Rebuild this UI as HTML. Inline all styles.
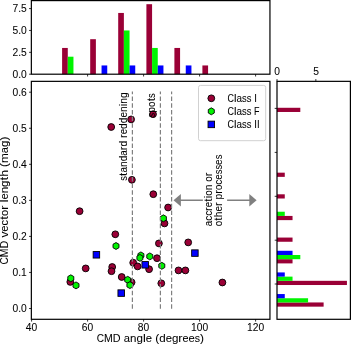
<!DOCTYPE html>
<html><head><meta charset="utf-8"><title>CMD angle plot</title>
<style>html,body{margin:0;padding:0;background:#fff;}body{width:351px;height:345px;overflow:hidden;font-family:"Liberation Sans",sans-serif;}svg{display:block;}</style>
</head><body>
<svg width="351" height="345" viewBox="0 0 351 345" font-family="'Liberation Sans', sans-serif" fill="#000">
<rect x="0" y="0" width="351" height="345" fill="#fff"/>
<rect x="62.10" y="47.95" width="5.68" height="26.25" fill="#9a0036"/>
<rect x="67.78" y="56.70" width="5.68" height="17.50" fill="#00f400"/>
<rect x="90.20" y="39.20" width="5.68" height="35.00" fill="#9a0036"/>
<rect x="101.56" y="65.45" width="5.68" height="8.75" fill="#0000ff"/>
<rect x="118.20" y="12.95" width="5.68" height="61.25" fill="#9a0036"/>
<rect x="123.88" y="30.45" width="5.68" height="43.75" fill="#00f400"/>
<rect x="129.56" y="65.45" width="5.68" height="8.75" fill="#0000ff"/>
<rect x="146.40" y="4.20" width="5.68" height="70.00" fill="#9a0036"/>
<rect x="152.08" y="47.95" width="5.68" height="26.25" fill="#00f400"/>
<rect x="157.76" y="65.45" width="5.68" height="8.75" fill="#0000ff"/>
<rect x="174.40" y="47.95" width="5.68" height="26.25" fill="#9a0036"/>
<rect x="185.76" y="65.45" width="5.68" height="8.75" fill="#0000ff"/>
<rect x="202.40" y="65.45" width="5.68" height="8.75" fill="#9a0036"/>
<rect x="277.00" y="302.45" width="46.62" height="4.20" fill="#9a0036"/>
<rect x="277.00" y="298.25" width="31.08" height="4.20" fill="#00f400"/>
<rect x="277.00" y="294.05" width="7.77" height="4.20" fill="#0000ff"/>
<rect x="277.00" y="280.82" width="69.93" height="4.20" fill="#9a0036"/>
<rect x="277.00" y="276.62" width="15.54" height="4.20" fill="#00f400"/>
<rect x="277.00" y="272.42" width="7.77" height="4.20" fill="#0000ff"/>
<rect x="277.00" y="259.19" width="15.54" height="4.20" fill="#9a0036"/>
<rect x="277.00" y="254.99" width="23.31" height="4.20" fill="#00f400"/>
<rect x="277.00" y="250.79" width="15.54" height="4.20" fill="#0000ff"/>
<rect x="277.00" y="237.56" width="15.54" height="4.20" fill="#9a0036"/>
<rect x="277.00" y="215.93" width="15.54" height="4.20" fill="#9a0036"/>
<rect x="277.00" y="211.73" width="7.77" height="4.20" fill="#00f400"/>
<rect x="277.00" y="194.30" width="7.77" height="4.20" fill="#9a0036"/>
<rect x="277.00" y="172.67" width="7.77" height="4.20" fill="#9a0036"/>
<rect x="277.00" y="107.78" width="23.31" height="4.20" fill="#9a0036"/>
<circle cx="111.20" cy="127.00" r="3.4" fill="#9a0036" stroke="#000" stroke-width="0.9"/>
<circle cx="131.10" cy="119.40" r="3.4" fill="#9a0036" stroke="#000" stroke-width="0.9"/>
<circle cx="153.00" cy="114.20" r="3.4" fill="#9a0036" stroke="#000" stroke-width="0.9"/>
<circle cx="131.90" cy="179.80" r="3.4" fill="#9a0036" stroke="#000" stroke-width="0.9"/>
<circle cx="153.30" cy="194.20" r="3.4" fill="#9a0036" stroke="#000" stroke-width="0.9"/>
<circle cx="168.10" cy="207.50" r="3.4" fill="#9a0036" stroke="#000" stroke-width="0.9"/>
<circle cx="164.50" cy="223.40" r="3.4" fill="#9a0036" stroke="#000" stroke-width="0.9"/>
<circle cx="115.30" cy="234.30" r="3.4" fill="#9a0036" stroke="#000" stroke-width="0.9"/>
<circle cx="158.90" cy="243.40" r="3.4" fill="#9a0036" stroke="#000" stroke-width="0.9"/>
<circle cx="188.20" cy="242.40" r="3.4" fill="#9a0036" stroke="#000" stroke-width="0.9"/>
<circle cx="85.70" cy="268.40" r="3.4" fill="#9a0036" stroke="#000" stroke-width="0.9"/>
<circle cx="112.20" cy="267.00" r="3.4" fill="#9a0036" stroke="#000" stroke-width="0.9"/>
<circle cx="111.50" cy="271.20" r="3.4" fill="#9a0036" stroke="#000" stroke-width="0.9"/>
<circle cx="121.70" cy="277.00" r="3.4" fill="#9a0036" stroke="#000" stroke-width="0.9"/>
<circle cx="70.30" cy="281.90" r="3.4" fill="#9a0036" stroke="#000" stroke-width="0.9"/>
<circle cx="131.60" cy="282.30" r="3.4" fill="#9a0036" stroke="#000" stroke-width="0.9"/>
<circle cx="133.20" cy="262.70" r="3.4" fill="#9a0036" stroke="#000" stroke-width="0.9"/>
<circle cx="137.60" cy="266.40" r="3.4" fill="#9a0036" stroke="#000" stroke-width="0.9"/>
<circle cx="149.10" cy="269.20" r="3.4" fill="#9a0036" stroke="#000" stroke-width="0.9"/>
<circle cx="157.00" cy="258.20" r="3.4" fill="#9a0036" stroke="#000" stroke-width="0.9"/>
<circle cx="161.30" cy="283.30" r="3.4" fill="#9a0036" stroke="#000" stroke-width="0.9"/>
<circle cx="178.50" cy="270.40" r="3.4" fill="#9a0036" stroke="#000" stroke-width="0.9"/>
<circle cx="185.40" cy="270.40" r="3.4" fill="#9a0036" stroke="#000" stroke-width="0.9"/>
<circle cx="222.40" cy="282.50" r="3.4" fill="#9a0036" stroke="#000" stroke-width="0.9"/>
<circle cx="79.60" cy="211.20" r="3.4" fill="#9a0036" stroke="#000" stroke-width="0.9"/>
<polygon points="116.00,242.55 113.01,244.28 113.01,247.72 116.00,249.45 118.99,247.72 118.99,244.28" fill="#00f400" stroke="#000" stroke-width="0.9"/>
<polygon points="70.80,274.85 67.81,276.57 67.81,280.03 70.80,281.75 73.79,280.03 73.79,276.57" fill="#00f400" stroke="#000" stroke-width="0.9"/>
<polygon points="76.00,281.95 73.01,283.67 73.01,287.12 76.00,288.85 78.99,287.12 78.99,283.67" fill="#00f400" stroke="#000" stroke-width="0.9"/>
<polygon points="127.70,276.35 124.71,278.07 124.71,281.53 127.70,283.25 130.69,281.53 130.69,278.07" fill="#00f400" stroke="#000" stroke-width="0.9"/>
<polygon points="129.90,281.65 126.91,283.38 126.91,286.83 129.90,288.55 132.89,286.83 132.89,283.38" fill="#00f400" stroke="#000" stroke-width="0.9"/>
<polygon points="140.90,251.95 137.91,253.68 137.91,257.12 140.90,258.85 143.89,257.12 143.89,253.68" fill="#00f400" stroke="#000" stroke-width="0.9"/>
<polygon points="139.90,254.45 136.91,256.17 136.91,259.62 139.90,261.35 142.89,259.62 142.89,256.17" fill="#00f400" stroke="#000" stroke-width="0.9"/>
<polygon points="149.80,252.95 146.81,254.67 146.81,258.12 149.80,259.85 152.79,258.12 152.79,254.67" fill="#00f400" stroke="#000" stroke-width="0.9"/>
<polygon points="161.80,262.35 158.81,264.07 158.81,267.53 161.80,269.25 164.79,267.53 164.79,264.07" fill="#00f400" stroke="#000" stroke-width="0.9"/>
<polygon points="163.40,214.85 160.41,216.58 160.41,220.03 163.40,221.75 166.39,220.03 166.39,216.58" fill="#00f400" stroke="#000" stroke-width="0.9"/>
<rect x="93.15" y="251.55" width="6.5" height="6.5" fill="#0000ff" stroke="#000" stroke-width="0.9"/>
<rect x="117.95" y="289.85" width="6.5" height="6.5" fill="#0000ff" stroke="#000" stroke-width="0.9"/>
<rect x="141.95" y="261.55" width="6.5" height="6.5" fill="#0000ff" stroke="#000" stroke-width="0.9"/>
<rect x="191.65" y="249.85" width="6.5" height="6.5" fill="#0000ff" stroke="#000" stroke-width="0.9"/>
<line x1="132.40" y1="308.7" x2="132.40" y2="91.6" stroke="#808080" stroke-width="1.2" stroke-dasharray="4.5 2.2"/>
<line x1="160.40" y1="308.7" x2="160.40" y2="91.6" stroke="#808080" stroke-width="1.2" stroke-dasharray="4.5 2.2"/>
<line x1="171.60" y1="308.7" x2="171.60" y2="91.6" stroke="#808080" stroke-width="1.2" stroke-dasharray="4.5 2.2"/>
<line x1="178" y1="200.2" x2="252" y2="200.2" stroke="#808080" stroke-width="1.6"/>
<polygon points="173.5,200.2 180.9,193.89999999999998 180.9,206.5" fill="#808080"/>
<polygon points="256.6,200.2 249.3,193.89999999999998 249.3,206.5" fill="#808080"/>
<rect x="202.9" y="152.3" width="24.2" height="76.5" fill="#fff"/>
<rect x="198.5" y="85.4" width="67.2" height="55.3" rx="2" ry="2" fill="#fff" fill-opacity="0.8" stroke="#ccc" stroke-width="0.9"/>
<circle cx="211.30" cy="98.30" r="3.4" fill="#9a0036" stroke="#000" stroke-width="0.9"/>
<polygon points="211.30,107.85 208.31,109.58 208.31,113.02 211.30,114.75 214.29,113.03 214.29,109.58" fill="#00f400" stroke="#000" stroke-width="0.9"/>
<rect x="208.05" y="121.15" width="6.5" height="6.5" fill="#0000ff" stroke="#000" stroke-width="0.9"/>
<rect x="31.35" y="0.60" width="238.60" height="73.60" fill="none" stroke="#000" stroke-width="1.2"/>
<rect x="31.35" y="81.35" width="238.60" height="237.95" fill="none" stroke="#000" stroke-width="1.2"/>
<rect x="277.00" y="81.35" width="73.40" height="237.95" fill="none" stroke="#000" stroke-width="1.2"/>
<line x1="29.05" y1="74.20" x2="31.35" y2="74.20" stroke="#000" stroke-width="0.8"/>
<line x1="29.05" y1="52.33" x2="31.35" y2="52.33" stroke="#000" stroke-width="0.8"/>
<line x1="29.05" y1="30.45" x2="31.35" y2="30.45" stroke="#000" stroke-width="0.8"/>
<line x1="29.05" y1="8.58" x2="31.35" y2="8.58" stroke="#000" stroke-width="0.8"/>
<line x1="29.05" y1="308.50" x2="31.35" y2="308.50" stroke="#000" stroke-width="0.8"/>
<line x1="29.05" y1="272.45" x2="31.35" y2="272.45" stroke="#000" stroke-width="0.8"/>
<line x1="29.05" y1="236.40" x2="31.35" y2="236.40" stroke="#000" stroke-width="0.8"/>
<line x1="29.05" y1="200.35" x2="31.35" y2="200.35" stroke="#000" stroke-width="0.8"/>
<line x1="29.05" y1="164.30" x2="31.35" y2="164.30" stroke="#000" stroke-width="0.8"/>
<line x1="29.05" y1="128.25" x2="31.35" y2="128.25" stroke="#000" stroke-width="0.8"/>
<line x1="29.05" y1="92.20" x2="31.35" y2="92.20" stroke="#000" stroke-width="0.8"/>
<line x1="31.60" y1="319.30" x2="31.60" y2="321.60" stroke="#000" stroke-width="0.8"/>
<line x1="87.60" y1="319.30" x2="87.60" y2="321.60" stroke="#000" stroke-width="0.8"/>
<line x1="87.60" y1="74.20" x2="87.60" y2="76.50" stroke="#000" stroke-width="0.8"/>
<line x1="143.60" y1="319.30" x2="143.60" y2="321.60" stroke="#000" stroke-width="0.8"/>
<line x1="143.60" y1="74.20" x2="143.60" y2="76.50" stroke="#000" stroke-width="0.8"/>
<line x1="199.60" y1="319.30" x2="199.60" y2="321.60" stroke="#000" stroke-width="0.8"/>
<line x1="199.60" y1="74.20" x2="199.60" y2="76.50" stroke="#000" stroke-width="0.8"/>
<line x1="255.60" y1="319.30" x2="255.60" y2="321.60" stroke="#000" stroke-width="0.8"/>
<line x1="255.60" y1="74.20" x2="255.60" y2="76.50" stroke="#000" stroke-width="0.8"/>
<line x1="277.00" y1="79.05" x2="277.00" y2="81.35" stroke="#000" stroke-width="0.8"/>
<line x1="315.85" y1="79.05" x2="315.85" y2="81.35" stroke="#000" stroke-width="0.8"/>
<line x1="274.70" y1="108.40" x2="277.00" y2="108.40" stroke="#000" stroke-width="0.8"/>
<line x1="274.70" y1="152.40" x2="277.00" y2="152.40" stroke="#000" stroke-width="0.8"/>
<line x1="274.70" y1="196.30" x2="277.00" y2="196.30" stroke="#000" stroke-width="0.8"/>
<line x1="274.70" y1="240.20" x2="277.00" y2="240.20" stroke="#000" stroke-width="0.8"/>
<line x1="274.70" y1="284.00" x2="277.00" y2="284.00" stroke="#000" stroke-width="0.8"/>
<defs><filter id="g" filterUnits="userSpaceOnUse" x="0" y="0" width="351" height="345"><feOffset dx="0" dy="0"/></filter></defs>
<g filter="url(#g)">
<g transform="translate(127.00,180.80) rotate(-90)" font-size="10.17" stroke="#000" stroke-width="0.06"><text transform="translate(0.00,0) scale(0.922,1)">s</text><text transform="translate(4.81,0) scale(1.160,1)">t</text><text transform="translate(8.22,0) scale(0.975,1)">a</text><text transform="translate(13.73,0) scale(1.008,1)">n</text><text transform="translate(19.44,0) scale(1.010,1)">d</text><text transform="translate(25.15,0) scale(0.975,1)">a</text><text transform="translate(30.67,0) scale(1.093,1)">r</text><text transform="translate(34.37,0) scale(0.982,1)">d</text><text transform="translate(42.78,0) scale(1.093,1)">r</text><text transform="translate(46.48,0) scale(0.944,1)">e</text><text transform="translate(51.82,0) scale(1.010,1)">d</text><text transform="translate(57.53,0) scale(1.010,1)">d</text><text transform="translate(63.25,0) scale(0.979,1)">e</text><text transform="translate(68.78,0) scale(1.008,1)">n</text><text transform="translate(74.49,0) scale(1.107,1)">i</text><text transform="translate(76.99,0) scale(1.008,1)">n</text><text transform="translate(82.69,0) scale(1.010,1)">g</text></g>
<g transform="translate(155.40,117.40) rotate(-90)" font-size="10.17" stroke="#000" stroke-width="0.06"><text transform="translate(0.00,0) scale(0.922,1)">s</text><text transform="translate(4.69,0) scale(1.010,1)">p</text><text transform="translate(10.40,0) scale(0.974,1)">o</text><text transform="translate(16.03,0) scale(1.160,1)">t</text><text transform="translate(19.44,0) scale(0.922,1)">s</text></g>
<g transform="translate(211.80,226.30) rotate(-90)" font-size="10.17" stroke="#000" stroke-width="0.06"><text transform="translate(0.00,0) scale(0.975,1)">a</text><text transform="translate(5.52,0) scale(0.973,1)">c</text><text transform="translate(10.46,0) scale(0.973,1)">c</text><text transform="translate(15.41,0) scale(1.093,1)">r</text><text transform="translate(19.11,0) scale(0.944,1)">e</text><text transform="translate(24.58,0) scale(1.160,1)">t</text><text transform="translate(27.98,0) scale(1.107,1)">i</text><text transform="translate(30.48,0) scale(0.974,1)">o</text><text transform="translate(35.99,0) scale(1.008,1)">n</text><text transform="translate(44.55,0) scale(0.974,1)">o</text><text transform="translate(50.06,0) scale(1.093,1)">r</text></g>
<g transform="translate(221.50,226.30) rotate(-90)" font-size="10.17" stroke="#000" stroke-width="0.06"><text transform="translate(0.00,0) scale(0.974,1)">o</text><text transform="translate(5.63,0) scale(1.160,1)">t</text><text transform="translate(9.04,0) scale(1.008,1)">h</text><text transform="translate(14.74,0) scale(0.979,1)">e</text><text transform="translate(20.28,0) scale(1.093,1)">r</text><text transform="translate(26.84,0) scale(1.010,1)">p</text><text transform="translate(32.55,0) scale(1.093,1)">r</text><text transform="translate(36.25,0) scale(0.939,1)">o</text><text transform="translate(41.56,0) scale(0.973,1)">c</text><text transform="translate(46.51,0) scale(0.979,1)">e</text><text transform="translate(52.04,0) scale(0.922,1)">s</text><text transform="translate(56.73,0) scale(0.922,1)">s</text><text transform="translate(61.42,0) scale(0.979,1)">e</text><text transform="translate(66.96,0) scale(0.922,1)">s</text></g>
<g transform="translate(227.70,101.60)" font-size="10.17" stroke="#000" stroke-width="0.06"><text transform="translate(-0.09,0) scale(0.880,1)">C</text><text transform="translate(6.28,0) scale(1.107,1)">l</text><text transform="translate(8.78,0) scale(0.975,1)">a</text><text transform="translate(14.30,0) scale(0.922,1)">s</text><text transform="translate(18.99,0) scale(0.922,1)">s</text><text transform="translate(26.54,0) scale(0.939,1)">I</text></g>
<g transform="translate(227.70,114.60)" font-size="10.17" stroke="#000" stroke-width="0.06"><text transform="translate(-0.09,0) scale(0.880,1)">C</text><text transform="translate(6.28,0) scale(1.107,1)">l</text><text transform="translate(8.78,0) scale(0.975,1)">a</text><text transform="translate(14.30,0) scale(0.922,1)">s</text><text transform="translate(18.99,0) scale(0.922,1)">s</text><text transform="translate(26.39,0) scale(0.880,1)">F</text></g>
<g transform="translate(227.70,127.70)" font-size="10.17" stroke="#000" stroke-width="0.06"><text transform="translate(-0.09,0) scale(0.880,1)">C</text><text transform="translate(6.28,0) scale(1.107,1)">l</text><text transform="translate(8.78,0) scale(0.975,1)">a</text><text transform="translate(14.30,0) scale(0.922,1)">s</text><text transform="translate(18.99,0) scale(0.922,1)">s</text><text transform="translate(26.54,0) scale(0.939,1)">I</text><text transform="translate(29.19,0) scale(0.939,1)">I</text></g>
<g transform="translate(26.80,77.50)" font-size="10.17" stroke="#000" stroke-width="0.06"><text transform="translate(-14.31,0) scale(1.012,1)">0</text><text transform="translate(-8.59,0) scale(1.013,1)">.</text><text transform="translate(-5.73,0) scale(1.012,1)">0</text></g>
<g transform="translate(26.80,55.62)" font-size="10.17" stroke="#000" stroke-width="0.06"><text transform="translate(-14.31,0) scale(1.012,1)">2</text><text transform="translate(-8.59,0) scale(1.013,1)">.</text><text transform="translate(-5.73,0) scale(1.012,1)">5</text></g>
<g transform="translate(26.80,33.75)" font-size="10.17" stroke="#000" stroke-width="0.06"><text transform="translate(-14.31,0) scale(1.012,1)">5</text><text transform="translate(-8.59,0) scale(1.013,1)">.</text><text transform="translate(-5.73,0) scale(1.012,1)">0</text></g>
<g transform="translate(26.80,11.88)" font-size="10.17" stroke="#000" stroke-width="0.06"><text transform="translate(-14.31,0) scale(1.012,1)">7</text><text transform="translate(-8.59,0) scale(1.013,1)">.</text><text transform="translate(-5.73,0) scale(1.012,1)">5</text></g>
<g transform="translate(26.80,311.80)" font-size="10.17" stroke="#000" stroke-width="0.06"><text transform="translate(-14.31,0) scale(1.012,1)">0</text><text transform="translate(-8.59,0) scale(1.013,1)">.</text><text transform="translate(-5.73,0) scale(1.012,1)">0</text></g>
<g transform="translate(26.80,275.75)" font-size="10.17" stroke="#000" stroke-width="0.06"><text transform="translate(-14.31,0) scale(1.012,1)">0</text><text transform="translate(-8.59,0) scale(1.013,1)">.</text><text transform="translate(-5.73,0) scale(1.012,1)">1</text></g>
<g transform="translate(26.80,239.70)" font-size="10.17" stroke="#000" stroke-width="0.06"><text transform="translate(-14.31,0) scale(1.012,1)">0</text><text transform="translate(-8.59,0) scale(1.013,1)">.</text><text transform="translate(-5.73,0) scale(1.012,1)">2</text></g>
<g transform="translate(26.80,203.65)" font-size="10.17" stroke="#000" stroke-width="0.06"><text transform="translate(-14.31,0) scale(1.012,1)">0</text><text transform="translate(-8.59,0) scale(1.013,1)">.</text><text transform="translate(-5.73,0) scale(1.012,1)">3</text></g>
<g transform="translate(26.80,167.60)" font-size="10.17" stroke="#000" stroke-width="0.06"><text transform="translate(-14.31,0) scale(1.012,1)">0</text><text transform="translate(-8.59,0) scale(1.013,1)">.</text><text transform="translate(-5.73,0) scale(1.012,1)">4</text></g>
<g transform="translate(26.80,131.55)" font-size="10.17" stroke="#000" stroke-width="0.06"><text transform="translate(-14.31,0) scale(1.012,1)">0</text><text transform="translate(-8.59,0) scale(1.013,1)">.</text><text transform="translate(-5.73,0) scale(1.012,1)">5</text></g>
<g transform="translate(26.80,95.50)" font-size="10.17" stroke="#000" stroke-width="0.06"><text transform="translate(-14.31,0) scale(1.012,1)">0</text><text transform="translate(-8.59,0) scale(1.013,1)">.</text><text transform="translate(-5.73,0) scale(1.012,1)">6</text></g>
<g transform="translate(31.60,331.20)" font-size="10.17" stroke="#000" stroke-width="0.06"><text transform="translate(-5.73,0) scale(1.012,1)">4</text><text transform="translate(0.00,0) scale(1.012,1)">0</text></g>
<g transform="translate(87.60,331.20)" font-size="10.17" stroke="#000" stroke-width="0.06"><text transform="translate(-5.73,0) scale(1.012,1)">6</text><text transform="translate(0.00,0) scale(1.012,1)">0</text></g>
<g transform="translate(143.60,331.20)" font-size="10.17" stroke="#000" stroke-width="0.06"><text transform="translate(-5.73,0) scale(1.012,1)">8</text><text transform="translate(0.00,0) scale(1.012,1)">0</text></g>
<g transform="translate(199.60,331.20)" font-size="10.17" stroke="#000" stroke-width="0.06"><text transform="translate(-8.59,0) scale(1.012,1)">1</text><text transform="translate(-2.86,0) scale(1.012,1)">0</text><text transform="translate(2.86,0) scale(1.012,1)">0</text></g>
<g transform="translate(255.60,331.20)" font-size="10.17" stroke="#000" stroke-width="0.06"><text transform="translate(-8.59,0) scale(1.012,1)">1</text><text transform="translate(-2.86,0) scale(1.012,1)">2</text><text transform="translate(2.86,0) scale(1.012,1)">0</text></g>
<g transform="translate(277.20,74.70)" font-size="10.17" stroke="#000" stroke-width="0.06"><text transform="translate(-2.86,0) scale(1.012,1)">0</text></g>
<g transform="translate(316.05,74.70)" font-size="10.17" stroke="#000" stroke-width="0.06"><text transform="translate(-2.86,0) scale(1.012,1)">5</text></g>
<g transform="translate(150.50,342.40)" font-size="11.47" stroke="#000" stroke-width="0.06"><text transform="translate(-53.63,0) scale(0.880,1)">C</text><text transform="translate(-46.44,0) scale(0.917,1)">M</text><text transform="translate(-37.68,0) scale(0.944,1)">D</text><text transform="translate(-26.64,0) scale(0.975,1)">a</text><text transform="translate(-20.42,0) scale(1.008,1)">n</text><text transform="translate(-13.99,0) scale(1.010,1)">g</text><text transform="translate(-7.54,0) scale(1.107,1)">l</text><text transform="translate(-4.72,0) scale(0.979,1)">e</text><text transform="translate(4.75,0) scale(1.037,1)">(</text><text transform="translate(8.71,0) scale(1.010,1)">d</text><text transform="translate(15.15,0) scale(0.979,1)">e</text><text transform="translate(21.40,0) scale(1.010,1)">g</text><text transform="translate(27.84,0) scale(1.093,1)">r</text><text transform="translate(32.01,0) scale(0.944,1)">e</text><text transform="translate(38.03,0) scale(0.979,1)">e</text><text transform="translate(44.28,0) scale(0.922,1)">s</text><text transform="translate(49.57,0) scale(1.037,1)">)</text></g>
<g transform="translate(7.85,200.50) rotate(-90)" font-size="11.41" stroke="#000" stroke-width="0.06"><text transform="translate(-63.96,0) scale(0.880,1)">C</text><text transform="translate(-56.81,0) scale(0.917,1)">M</text><text transform="translate(-48.10,0) scale(0.944,1)">D</text><text transform="translate(-37.11,0) scale(1.047,1)">v</text><text transform="translate(-31.13,0) scale(0.979,1)">e</text><text transform="translate(-24.92,0) scale(0.973,1)">c</text><text transform="translate(-19.22,0) scale(1.160,1)">t</text><text transform="translate(-15.40,0) scale(0.974,1)">o</text><text transform="translate(-9.22,0) scale(1.093,1)">r</text><text transform="translate(-1.86,0) scale(1.107,1)">l</text><text transform="translate(0.94,0) scale(0.979,1)">e</text><text transform="translate(7.16,0) scale(1.008,1)">n</text><text transform="translate(13.56,0) scale(1.010,1)">g</text><text transform="translate(20.11,0) scale(1.160,1)">t</text><text transform="translate(23.93,0) scale(1.008,1)">h</text><text transform="translate(33.54,0) scale(1.037,1)">(</text><text transform="translate(37.48,0) scale(1.035,1)">m</text><text transform="translate(47.32,0) scale(0.975,1)">a</text><text transform="translate(53.51,0) scale(1.010,1)">g</text><text transform="translate(59.92,0) scale(1.037,1)">)</text></g>
</g>
</svg>
</body></html>
